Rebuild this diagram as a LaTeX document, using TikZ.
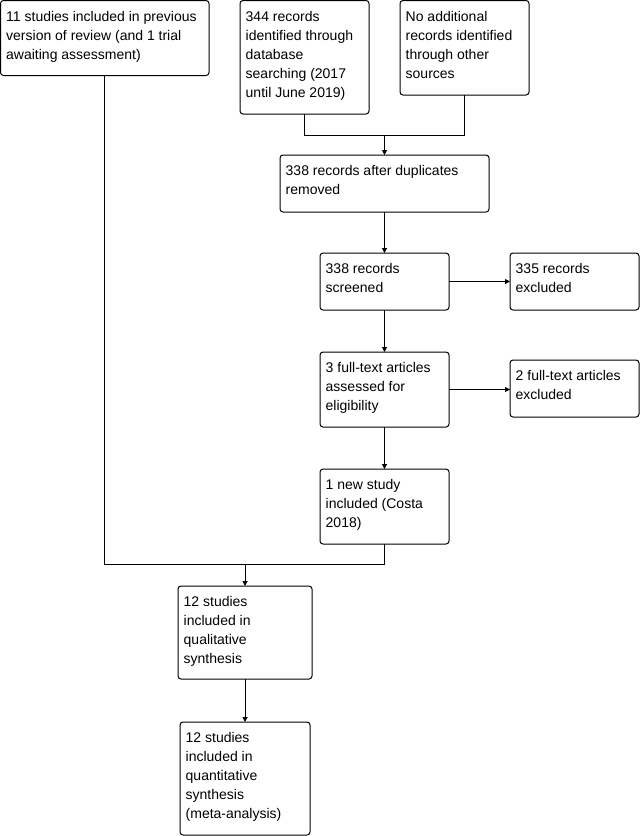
\documentclass[tikz,border=0pt]{standalone}
\usepackage{fontspec}
\setmainfont{Liberation Sans}
\usetikzlibrary{arrows.meta}
\begin{document}
\begin{tikzpicture}[x=1pt,y=-1pt,
  box/.style={draw, line width=1pt, rounded corners=3pt, anchor=north west, inner sep=0pt, outer sep=0pt},
  txt/.style={anchor=north west, align=left, inner sep=0pt, font=\fontsize{14}{19}\selectfont, xshift=5.5pt, yshift=-7.2pt},
  arr/.style={-{Triangle[length=5pt,width=5pt]}, line width=1pt},
  ln/.style={line width=1pt}]
\useasboundingbox (0,0) rectangle (642,836);
\node[box, minimum width=208.5pt, minimum height=75pt] (A) at (0.5,0.5)
  {}; \node[txt] (tA) at (A.north west) {\strut 11 studies included in previous\\version of review (and 1 trial\\awaiting assessment)};
\node[box, minimum width=129pt, minimum height=113.5pt] (B) at (240,0.5) {};
\node[txt] (tB) at (B.north west) {\strut 344 records\\identified through\\database\\searching (2017\\until June 2019)};
\node[box, minimum width=129pt, minimum height=94.5pt] (C) at (400,0.5) {};
\node[txt] (tC) at (C.north west) {\strut No additional\\records identified\\through other\\sources};
\node[box, minimum width=209pt, minimum height=57pt] (D) at (280,155) {};
\node[txt] (tD) at (D.north west) {\strut 338 records after duplicates\\removed};
\node[box, minimum width=129pt, minimum height=57pt] (E) at (320,253) {};
\node[txt] (tE) at (E.north west) {\strut 338 records\\screened};
\node[box, minimum width=129pt, minimum height=57pt] (F) at (510,253) {};
\node[txt] (tF) at (F.north west) {\strut 335 records\\excluded};
\node[box, minimum width=129pt, minimum height=75pt] (G) at (320,352) {};
\node[txt] (tG) at (G.north west) {\strut 3 full-text articles\\assessed for\\eligibility};
\node[box, minimum width=129pt, minimum height=57pt] (H) at (510,360) {};
\node[txt] (tH) at (H.north west) {\strut 2 full-text articles\\excluded};
\node[box, minimum width=129pt, minimum height=75pt] (I) at (320,469) {};
\node[txt] (tI) at (I.north west) {\strut 1 new study\\included (Costa\\2018)};
\node[box, minimum width=134pt, minimum height=93pt] (J) at (178,586) {};
\node[txt] (tJ) at (J.north west) {\strut 12 studies\\included in\\qualitative\\synthesis};
\node[box, minimum width=130pt, minimum height=113pt] (K) at (180,722) {};
\node[txt] (tK) at (K.north west) {\strut 12 studies\\included in\\quantitative\\synthesis\\(meta-analysis)};
\coordinate (m1) at (384.5,135.5);
\coordinate (m2) at (245,564.5);
\draw[ln] (B.south) |- (m1) -| (C.south);
\draw[arr] (m1) -- (D.north);
\draw[arr] (D.south) -- (E.north);
\draw[arr] (E.east) -- (F.west);
\draw[arr] (E.south) -- (G.north);
\draw[arr] (G.east) -- (G.east -| H.west);
\draw[arr] (G.south) -- (I.north);
\draw[ln] (A.south) |- (m2) -| (I.south);
\draw[arr] (m2) -- (J.north);
\draw[arr] (J.south) -- (K.north);
\end{tikzpicture}
\end{document}
